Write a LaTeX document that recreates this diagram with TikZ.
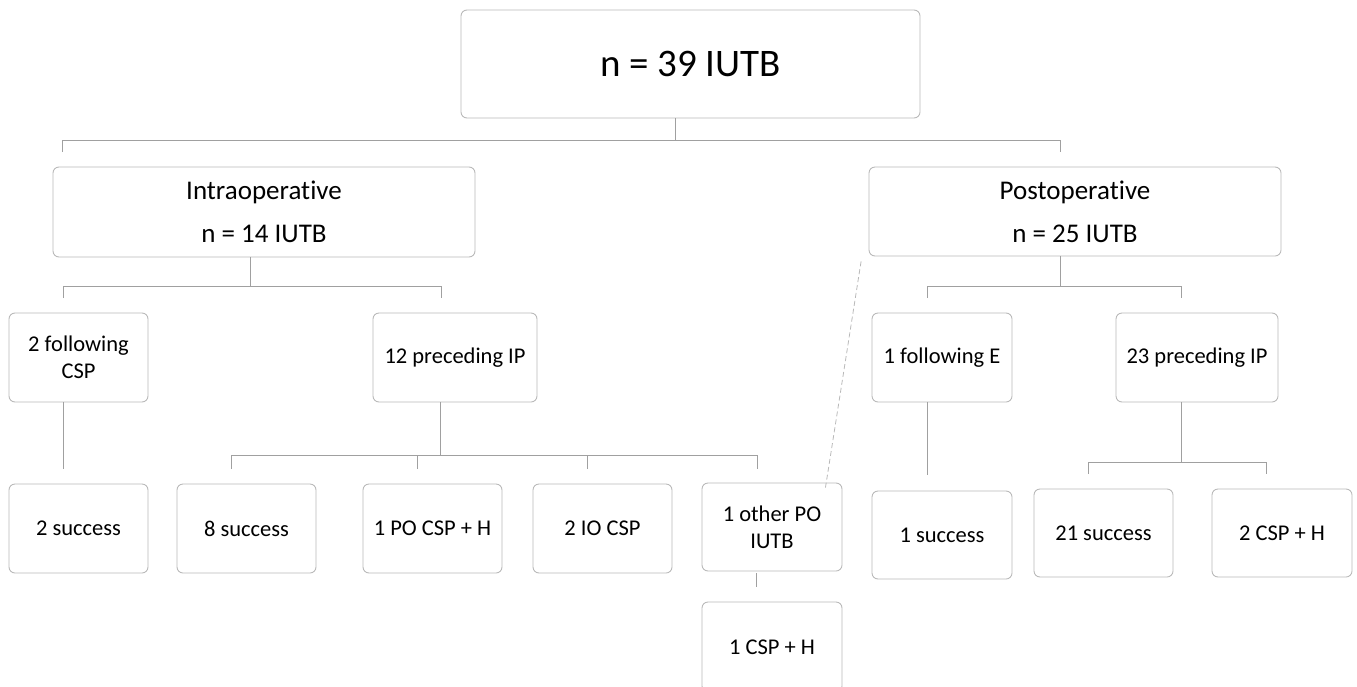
\documentclass[tikz,border=0pt]{standalone}
\usepackage{fontspec}
\setmainfont{Carlito}[Ligatures=CommonOff]
\definecolor{boxgray}{RGB}{185,185,185}
\definecolor{linegray}{RGB}{160,160,160}
\begin{document}
\begin{tikzpicture}[x=1pt,y=-1pt,
  box/.style={draw=boxgray, line width=0.9pt, rounded corners=6pt, align=center,
    inner sep=0pt, font=\fontsize{22.5}{27}\selectfont, text=black},
  midbox/.style={box, font=\fontsize{27}{43}\selectfont},
  topbox/.style={box, font=\fontsize{39}{46}\selectfont},
  conn/.style={draw=linegray, line width=1pt},
  dconn/.style={draw=boxgray, line width=0.8pt, dashed, dash pattern=on 5pt off 3pt}]
\useasboundingbox (0,0) rectangle (1357,686);

% nodes
\node[topbox, minimum width=459pt, minimum height=108pt] (top) at (690.5,64) {n = 39 IUTB};
\node[midbox, minimum width=422pt, minimum height=90pt] (intra) at (264,212) {Intraoperative\\n = 14 IUTB};
\node[midbox, minimum width=412pt, minimum height=89pt] (post) at (1075,211.5) {Postoperative\\n = 25 IUTB};

\node[box, minimum width=139pt, minimum height=89pt] (fcsp) at (78.5,357.5) {2 following\\CSP};
\node[box, minimum width=164pt, minimum height=89pt] (pip12) at (455,357.5) {12 preceding IP};
\node[box, minimum width=140pt, minimum height=89pt] (fe) at (942,357.5) {1 following E};
\node[box, minimum width=162pt, minimum height=89pt] (pip23) at (1197,357.5) {23 preceding IP};

\node[box, minimum width=139pt, minimum height=89pt] (s2) at (78.5,528.5) {2 success};
\node[box, minimum width=139pt, minimum height=89pt] (s8) at (246.5,528.5) {8 success};
\node[box, minimum width=139pt, minimum height=89pt] (pocsp) at (432.5,528.5) {1 PO CSP + H};
\node[box, minimum width=139pt, minimum height=89pt] (iocsp) at (602.5,528.5) {2 IO CSP};
\node[box, minimum width=140pt, minimum height=88pt] (other) at (772,527) {1 other PO\\IUTB};
\node[box, minimum width=140pt, minimum height=90pt] (csph) at (772,647) {1 CSP + H};
\node[box, minimum width=140pt, minimum height=88pt] (s1) at (942,535) {1 success};
\node[box, minimum width=139pt, minimum height=88pt] (s21) at (1103.5,533) {21 success};
\node[box, minimum width=140pt, minimum height=88pt] (csp2) at (1282,533) {2 CSP + H};

% bus coordinates
\coordinate (t1) at (62,152);
\coordinate (t2) at (1060,152);
\coordinate (i1) at (63,298);
\coordinate (i2) at (441,298);
\coordinate (p1) at (927,298);
\coordinate (p2) at (1181,298);
\coordinate (a1) at (231,469);
\coordinate (a2) at (417,469);
\coordinate (a3) at (587,469);
\coordinate (a4) at (757,469);
\coordinate (f1) at (63,469);
\coordinate (e1) at (927,475);
\coordinate (q1) at (1088,474);
\coordinate (q2) at (1266,474);
\coordinate (o1) at (756,587);

% connectors
\draw[conn] ([xshift=-15.5pt]top.south) -- ++(0,22) coordinate (tb);
\draw[conn] (t1) -- (t1 |- tb) -- (t2 |- tb) -- (t2);

\draw[conn] ([xshift=-14pt]intra.south) -- ++(0,29) coordinate (ib);
\draw[conn] (i1) -- (i1 |- ib) -- (i2 |- ib) -- (i2);

\draw[conn] ([xshift=-15pt]post.south) -- ++(0,30) coordinate (pb);
\draw[conn] (p1) -- (p1 |- pb) -- (p2 |- pb) -- (p2);

\draw[conn] ([xshift=-15.5pt]fcsp.south) -- (f1);

\draw[conn] ([xshift=-15pt]pip12.south) -- ++(0,53) coordinate (ab);
\draw[conn] (a1) -- (a1 |- ab) -- (a4 |- ab) -- (a4);
\draw[conn] (a2) -- (a2 |- ab);
\draw[conn] (a3) -- (a3 |- ab);

\draw[conn] ([xshift=-15pt]fe.south) -- (e1);

\draw[conn] ([xshift=-16pt]pip23.south) -- ++(0,60) coordinate (qb);
\draw[conn] (q1) -- (q1 |- qb) -- (q2 |- qb) -- (q2);

\draw[conn] ([xshift=-16pt,yshift=-2pt]other.south) -- (o1);

\draw[dconn] ([xshift=-17pt,yshift=-5pt]other.north east) -- ([xshift=-7pt,yshift=-2pt]post.south west);
\end{tikzpicture}
\end{document}
